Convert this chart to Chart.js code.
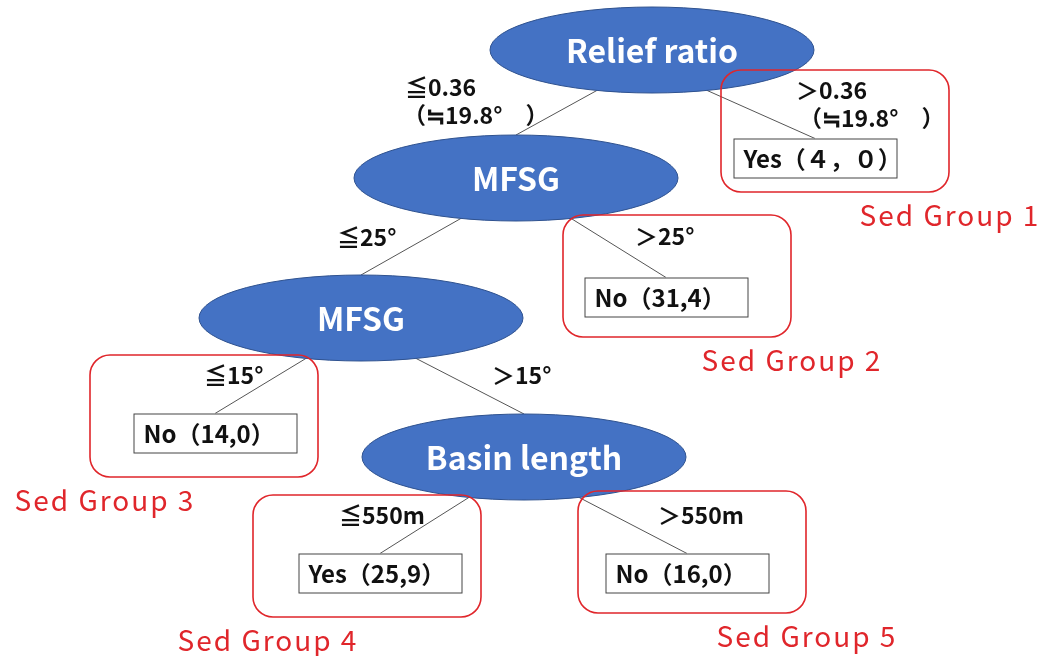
<!DOCTYPE html>
<html>
<head>
<meta charset="utf-8">
<script src="https://cdn.jsdelivr.net/npm/chart.js@4.4.1/dist/chart.umd.min.js"></script>
<style>
  html, body { margin: 0; padding: 0; background: #fff; }
  #wrap { width: 1043px; height: 656px; }
</style>
</head>
<body>
<div id="wrap"><canvas id="treeChart"></canvas></div>
<script>
// Decision nodes (blue ellipses)
const nodeNames = ['Relief ratio', 'MFSG', 'MFSG', 'Basin length'];
const nodeX = [652, 516, 361, 524];
const nodeY = [50, 178, 318, 457];
const nodeParent = [-1, 0, 1, 2];

// Leaves (result boxes)
const leafLabels = ['Yes（４，０）', 'No（31,4）', 'No（14,0）', 'Yes（25,9）', 'No（16,0）'];
const leafX = [815, 666, 215, 380, 687];
const leafY = [158, 297, 433, 573, 573];
const leafParent = [0, 1, 2, 3, 3];

// Split conditions
const splitLabels = ['≦0.36', '（≒19.8°　）', '＞0.36', '（≒19.8°　）', '≦25°', '＞25°', '≦15°', '＞15°', '≦550m', '＞550m'];
const splitX = [405, 403, 796, 799, 337, 635, 204, 492, 339, 658];
const splitY = [87, 115, 90, 118, 237, 236, 375, 375, 515, 515];

// Sediment groups (red frames)
const groupLabels = ['Sed Group 1', 'Sed Group 2', 'Sed Group 3', 'Sed Group 4', 'Sed Group 5'];
const groupX = [835, 677, 204, 367, 692];
const groupY = [131, 276, 416, 556, 552];
const groupSide = [1, 1, -1, -1, 1];

const RX = 162, RY = 43;       // ellipse radii
const BOX_W = 163, BOX_H = 39; // leaf box
const GRP_W = 228, GRP_H = 122;
const JP = '"Noto Sans CJK JP", "Noto Sans", sans-serif';

const pts = (xs, ys) => xs.map((x, i) => ({ x: x, y: ys[i] }));

const treeDraw = {
  id: 'treeDraw',
  afterDatasetsDraw(chart) {
    const ctx = chart.ctx;
    const sx = chart.scales.x, sy = chart.scales.y;
    const w = v => sx.getPixelForValue(v) - sx.getPixelForValue(0);
    const h = v => Math.abs(sy.getPixelForValue(v) - sy.getPixelForValue(0));
    const nodes = chart.getDatasetMeta(0).data;
    const leaves = chart.getDatasetMeta(1).data;
    const groups = chart.getDatasetMeta(2).data;
    const splits = chart.getDatasetMeta(3).data;
    const rx = w(RX), ry = h(RY);

    ctx.save();

    // edges
    ctx.strokeStyle = '#555';
    ctx.lineWidth = 1;
    const edge = (p, cx, cy) => {
      const side = cx < p.x ? -1 : 1;
      const k = 0.34;
      ctx.beginPath();
      ctx.moveTo(p.x + side * k * rx, p.y + ry * Math.sqrt(1 - k * k));
      ctx.lineTo(cx, cy);
      ctx.stroke();
    };
    nodes.forEach((n, i) => {
      if (nodeParent[i] >= 0) edge(nodes[nodeParent[i]], n.x, n.y - ry);
    });
    leaves.forEach((l, i) => edge(nodes[leafParent[i]], l.x, l.y - h(BOX_H) / 2));

    // ellipses
    nodes.forEach((n, i) => {
      ctx.beginPath();
      ctx.ellipse(n.x, n.y, rx, ry, 0, 0, Math.PI * 2);
      ctx.fillStyle = '#4472c4';
      ctx.fill();
      ctx.strokeStyle = '#2f528f';
      ctx.lineWidth = 1;
      ctx.stroke();
      ctx.fillStyle = '#fff';
      ctx.font = 'bold 32px ' + JP;
      ctx.textAlign = 'center';
      ctx.textBaseline = 'middle';
      ctx.fillText(nodeNames[i], n.x, n.y + 1);
    });

    // leaf boxes
    leaves.forEach((l, i) => {
      const bw = w(BOX_W), bh = h(BOX_H);
      ctx.fillStyle = '#fff';
      ctx.fillRect(l.x - bw / 2, l.y - bh / 2, bw, bh);
      ctx.strokeStyle = '#444';
      ctx.lineWidth = 1;
      ctx.strokeRect(l.x - bw / 2 + 0.5, l.y - bh / 2 + 0.5, bw, bh);
      ctx.fillStyle = '#111';
      ctx.font = 'bold 24px ' + JP;
      ctx.textAlign = 'left';
      ctx.textBaseline = 'middle';
      ctx.fillText(leafLabels[i], l.x - bw / 2 + 10, l.y + 1);
    });

    // split labels
    splits.forEach((s, i) => {
      ctx.fillStyle = '#111';
      ctx.font = 'bold 23px ' + JP;
      ctx.textAlign = 'left';
      ctx.textBaseline = 'middle';
      ctx.fillText(splitLabels[i], s.x, s.y);
    });

    // group frames and labels
    groups.forEach((g, i) => {
      const gw = w(GRP_W), gh = h(GRP_H);
      ctx.beginPath();
      ctx.roundRect(g.x - gw / 2, g.y - gh / 2, gw, gh, 20);
      ctx.strokeStyle = '#e0262b';
      ctx.lineWidth = 1.6;
      ctx.stroke();
      ctx.fillStyle = '#e0262b';
      ctx.font = '400 28px ' + JP;
      ctx.letterSpacing = '2px';
      ctx.textAlign = 'center';
      ctx.textBaseline = 'middle';
      const off = groupSide[i] > 0 ? 115 : -99;
      ctx.fillText(groupLabels[i], g.x + off, g.y + gh / 2 + 23);
      ctx.letterSpacing = '0px';
    });

    ctx.restore();
  }
};

window.addEventListener('load', () => {
  const ctx = document.getElementById('treeChart').getContext('2d');
  new Chart(ctx, {
    type: 'scatter',
    data: {
      datasets: [
        { label: 'nodes', data: pts(nodeX, nodeY), pointRadius: 0 },
        { label: 'leaves', data: pts(leafX, leafY), pointRadius: 0 },
        { label: 'groups', data: pts(groupX, groupY), pointRadius: 0 },
        { label: 'splits', data: pts(splitX, splitY), pointRadius: 0 }
      ]
    },
    options: {
      responsive: true,
      maintainAspectRatio: false,
      animation: false,
      layout: { padding: 0 },
      plugins: { legend: { display: false }, tooltip: { enabled: false } },
      events: [],
      scales: {
        x: { type: 'linear', min: 0, max: 1043, display: false },
        y: { type: 'linear', min: 0, max: 656, reverse: true, display: false }
      }
    },
    plugins: [treeDraw]
  });
});
</script>
</body>
</html>
